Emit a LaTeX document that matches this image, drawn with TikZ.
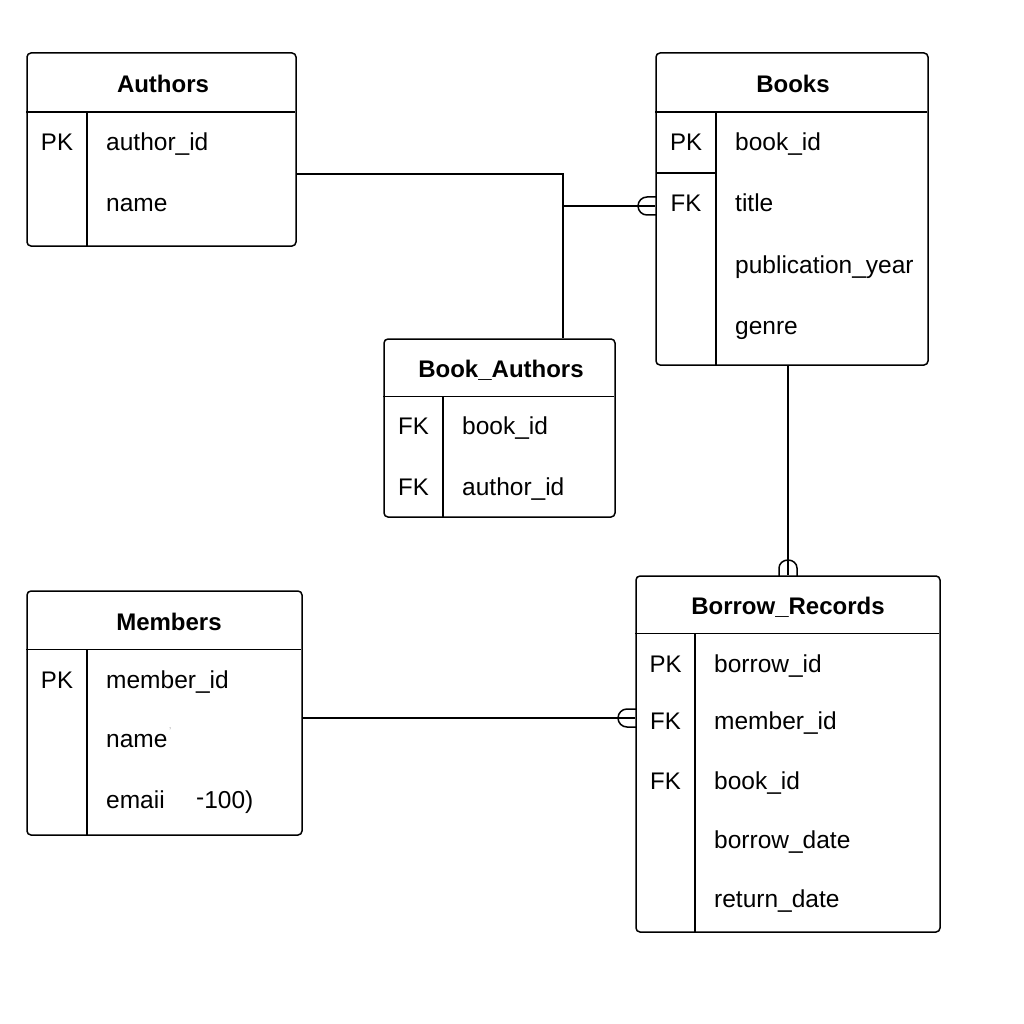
\documentclass[tikz,border=0pt]{standalone}
\usepackage{fontspec}
\setmainfont{Liberation Sans}
\begin{document}
\begin{tikzpicture}[x=1pt,y=-1pt,
 tbl/.style={draw, rounded corners=4pt, inner sep=0pt, line width=1.5pt},
 div/.style={line width=1.5pt},
 ttl/.style={font=\fontsize{24}{28}\selectfont\bfseries, anchor=base, inner sep=0pt},
 key/.style={font=\fontsize{24}{28}\selectfont, anchor=base, inner sep=0pt},
 txt/.style={font=\fontsize{24.5}{28}\selectfont, anchor=base west, inner sep=0pt},
 conn/.style={line width=1.5pt},
 relmark/.style={line width=1.5pt}]
\useasboundingbox (0,0) rectangle (1024,1024);

% ---------- Authors ----------
\node[tbl, minimum width=269pt, minimum height=193pt] (authors) at (161.5,149.5) {};
\draw[div] (authors.north west) ++(0,60) -- ++(269,0);
\draw[div] (87,113) -- (authors.south -| 87,0);
\node[ttl] (authorsT) at (163,93) {Authors};
\node[key] (authorsK1) at (57,151) {PK};
\node[txt] (authorsF1) at (106,151) {author\_id};
\node[txt] (authorsF2) at (106,212) {name};

% ---------- Books ----------
\node[tbl, minimum width=272pt, minimum height=312pt] (books) at (792,209) {};
\draw[div] (books.north west) ++(0,60) -- ++(272,0);
\draw[div] (716,113) -- (books.south -| 716,0);
\draw[div] (656,173) -- (716,173);
\node[ttl] (booksT) at (793,93) {Books};
\node[key] (booksK1) at (686,151) {PK};
\node[key] (booksK2) at (686,212) {FK};
\node[txt] (booksF1) at (735,151) {book\_id};
\node[txt] (booksF2) at (735,212) {title};
\node[txt] (booksF3) at (735,273) {publication\_year};
\node[txt] (booksF4) at (735,334) {genre};

% ---------- Book_Authors ----------
\node[tbl, minimum width=231pt, minimum height=178pt] (ba) at (499.5,428) {};
\draw[div] (ba.north west) ++(0,58) -- ++(231,0);
\draw[div] (443,397) -- (ba.south -| 443,0);
\node[ttl] (baT) at (501,377) {Book\_Authors};
\node[key] (baK1) at (413.5,434) {FK};
\node[key] (baK2) at (413.5,495) {FK};
\node[txt] (baF1) at (462,434) {book\_id};
\node[txt] (baF2) at (462,495) {author\_id};

% ---------- Members ----------
\node[tbl, minimum width=275pt, minimum height=244pt] (members) at (164.5,713) {};
\draw[div] (members.north west) ++(0,59) -- ++(275,0);
\draw[div] (87,650) -- (members.south -| 87,0);
\node[ttl] (membersT) at (169,630) {Members};
\node[key] (membersK1) at (57,688) {PK};
\node[txt] (membersF1) at (106,688) {member\_id};
\node[txt] (membersF2) at (106,747) {name};
\node[txt, font=\fontsize{10}{12}\selectfont, text=gray!60] (membersTick) at (169,734) {'};
\node[txt] (membersF3) at (106,808) {emaii};
\node[txt] (membersF3b) at (196,808) {\raisebox{3pt}{-}100)};

% ---------- Borrow_Records ----------
\node[tbl, minimum width=304pt, minimum height=356pt] (br) at (788,754) {};
\draw[div] (br.north west) ++(0,58) -- ++(304,0);
\draw[div] (695,634) -- (br.south -| 695,0);
\node[ttl] (brT) at (788,614) {Borrow\_Records};
\node[key] (brK1) at (665.5,672) {PK};
\node[key] (brK2) at (665.5,729) {FK};
\node[key] (brK3) at (665.5,789) {FK};
\node[txt] (brF1) at (714,672) {borrow\_id};
\node[txt] (brF2) at (714,729) {member\_id};
\node[txt] (brF3) at (714,789) {book\_id};
\node[txt] (brF4) at (714,848) {borrow\_date};
\node[txt] (brF5) at (714,907) {return\_date};

% ---------- Connectors ----------
\coordinate (j) at (563,206);
\draw[conn] (authors.east |- 0,174) -| (ba.north -| j);
\draw[conn] (j) -- (books.west |- j);
% relationship mark at Books
\draw[relmark] (656,197) -- (647,197) arc[start angle=90, end angle=270, radius=9pt] -- (656,215);

\draw[conn] (books.south -| 788,0) -- (br.north -| 788,0);
% relationship mark at Borrow_Records top
\draw[relmark] (779,576) -- (779,568) arc[start angle=180, end angle=0, x radius=9pt, y radius=8pt] -- (797,576);

\draw[conn] (members.east |- 0,718) -- (br.west |- 0,718);
% relationship mark at Borrow_Records left
\draw[relmark] (636,709) -- (627,709) arc[start angle=90, end angle=270, radius=9pt] -- (636,727);
\end{tikzpicture}
\end{document}
